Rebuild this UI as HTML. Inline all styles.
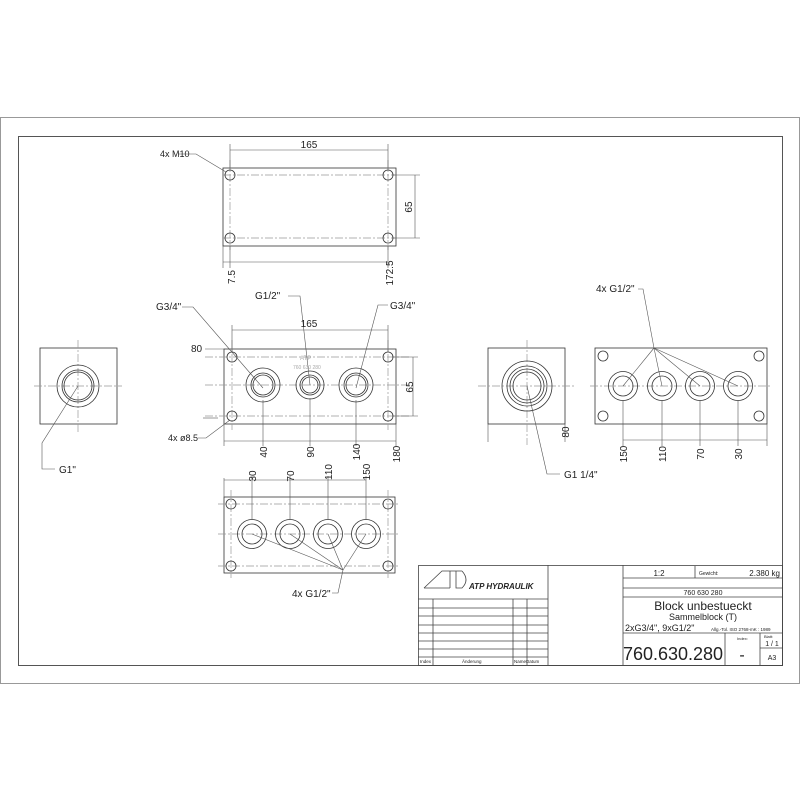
<!DOCTYPE html>
<html><head><meta charset="utf-8"><style>
html,body{margin:0;padding:0;background:#fff}
svg{display:block}
text{font-family:"Liberation Sans",sans-serif;fill:#222}
</style></head><body>
<svg width="800" height="800" viewBox="0 0 800 800" xmlns="http://www.w3.org/2000/svg">
<g fill="none" stroke="#999" stroke-width="1">
<rect x="0.5" y="117.5" width="799" height="566"/>
</g>
<g fill="none" stroke="#555" stroke-width="1">
<rect x="18.5" y="136.5" width="764" height="529"/>
</g>
<defs>
<style>.c{stroke:#999;stroke-dasharray:8 2 2 2;stroke-width:.7;fill:none}.l{stroke:#333;stroke-width:.8;fill:none}.t{stroke:#555;stroke-width:.6;fill:none}</style>
</defs>
<!-- TOP VIEW -->
<rect class="l" x="223" y="168" width="173" height="78"/>
<line class="c" x1="223" y1="175" x2="396" y2="175"/><line class="c" x1="223" y1="238" x2="396" y2="238"/>
<line class="c" x1="230" y1="160" x2="230" y2="250"/><line class="c" x1="388" y1="160" x2="388" y2="250"/>
<g class="l"><circle cx="230" cy="175" r="5"/><circle cx="388" cy="175" r="5"/><circle cx="230" cy="238" r="5"/><circle cx="388" cy="238" r="5"/></g>
<g class="t"><line x1="230" y1="150" x2="388" y2="150"/><line x1="230" y1="144" x2="230" y2="170"/><line x1="388" y1="144" x2="388" y2="170"/>
<line x1="415" y1="175" x2="415" y2="238"/><line x1="392" y1="175" x2="420" y2="175"/><line x1="392" y1="238" x2="420" y2="238"/>
<line x1="223" y1="262" x2="388" y2="262"/><line x1="223" y1="246" x2="223" y2="268"/><line x1="230" y1="246" x2="230" y2="268"/><line x1="388" y1="246" x2="388" y2="268"/>
<polyline points="178,154 196,154 226,172"/></g>
<text x="309" y="148" font-size="10" text-anchor="middle">165</text>
<text x="160" y="157" font-size="9">4x M10</text>
<text transform="translate(412,207) rotate(-90)" font-size="10" text-anchor="middle">65</text>
<text transform="translate(235,277) rotate(-90)" font-size="10" text-anchor="middle">7.5</text>
<text transform="translate(393,273) rotate(-90)" font-size="10" text-anchor="middle">172.5</text>

<!-- FRONT VIEW -->
<rect class="l" x="224" y="349" width="172" height="75"/>
<line class="c" x1="205" y1="357" x2="410" y2="357"/><line class="c" x1="205" y1="416" x2="410" y2="416"/>
<line class="c" x1="205" y1="385" x2="410" y2="385"/>
<line class="c" x1="232" y1="340" x2="232" y2="430"/><line class="c" x1="388" y1="340" x2="388" y2="430"/>
<g class="l"><circle cx="232" cy="357" r="5"/><circle cx="388" cy="357" r="5"/><circle cx="232" cy="416" r="5"/><circle cx="388" cy="416" r="5"/>
<circle cx="263" cy="385" r="17"/><circle cx="263" cy="385" r="12"/><circle cx="263" cy="385" r="10"/>
<circle cx="310" cy="385" r="14"/><circle cx="310" cy="385" r="10"/><circle cx="310" cy="385" r="8"/>
<circle cx="356" cy="385" r="17"/><circle cx="356" cy="385" r="12"/><circle cx="356" cy="385" r="10"/></g>
<g class="t"><line x1="232" y1="330" x2="388" y2="330"/><line x1="232" y1="325" x2="232" y2="352"/><line x1="388" y1="325" x2="388" y2="352"/>
<line x1="413" y1="357" x2="413" y2="416"/><line x1="392" y1="357" x2="418" y2="357"/><line x1="392" y1="416" x2="418" y2="416"/>
<line x1="224" y1="441" x2="396" y2="441"/><line x1="224" y1="424" x2="224" y2="446"/><line x1="263" y1="400" x2="263" y2="446"/><line x1="310" y1="398" x2="310" y2="446"/><line x1="356" y1="400" x2="356" y2="446"/><line x1="396" y1="424" x2="396" y2="446"/>
<line x1="205" y1="349" x2="224" y2="349"/><line x1="203" y1="418" x2="218" y2="418"/>
<polyline points="182,307 193,307 263,388"/><polyline points="288,296 300,296 310,385"/><polyline points="388,305 378,305 356,388"/><polyline points="198,438 206,438 230,420"/></g>
<text x="309" y="327" font-size="10" text-anchor="middle">165</text>
<text x="156" y="310" font-size="10">G3/4"</text>
<text x="255" y="299" font-size="10">G1/2"</text>
<text x="390" y="309" font-size="10">G3/4"</text>
<text x="191" y="352" font-size="10">80</text>
<text x="168" y="441" font-size="9">4x ø8.5</text>
<text transform="translate(413,387) rotate(-90)" font-size="10" text-anchor="middle">65</text>
<text transform="translate(267,452) rotate(-90)" font-size="10" text-anchor="middle">40</text>
<text transform="translate(314,452) rotate(-90)" font-size="10" text-anchor="middle">90</text>
<text transform="translate(360,452) rotate(-90)" font-size="10" text-anchor="middle">140</text>
<text transform="translate(400,454) rotate(-90)" font-size="10" text-anchor="middle">180</text>
<text x="300" y="360" font-size="6" fill="#aaa" style="fill:#aaa">ATP</text>
<text x="293" y="369" font-size="5" style="fill:#aaa">760 630 280</text>

<!-- LEFT VIEW -->
<rect class="l" x="40" y="348" width="77" height="76"/>
<line class="c" x1="78" y1="340" x2="78" y2="432"/><line class="c" x1="34" y1="386" x2="122" y2="386"/>
<g class="l"><circle cx="78" cy="386" r="21"/><circle cx="78" cy="386" r="16"/><circle cx="78" cy="386" r="14"/></g>
<polyline class="t" points="78,386 42,443 42,469 55,469"/>
<text x="59" y="473" font-size="10">G1"</text>

<!-- RIGHT VIEW 1 -->
<rect class="l" x="488" y="348" width="77" height="76"/>
<line class="c" x1="527" y1="340" x2="527" y2="445"/><line class="c" x1="478" y1="386" x2="575" y2="386"/>
<g class="l"><circle cx="527" cy="386" r="25"/><circle cx="527" cy="386" r="20"/><circle cx="527" cy="386" r="17"/><circle cx="527" cy="386" r="14"/></g>
<g class="t"><line x1="488" y1="424" x2="488" y2="442"/><line x1="565" y1="424" x2="565" y2="442"/></g>
<polyline class="t" points="527,386 547,474 560,474"/>
<text x="564" y="478" font-size="10">G1 1/4"</text>
<text transform="translate(569,432) rotate(-90)" font-size="10" text-anchor="middle">80</text>

<!-- RIGHT VIEW 2 -->
<rect class="l" x="595" y="348" width="172" height="76"/>
<line class="c" x1="590" y1="386" x2="772" y2="386"/>
<g class="l"><circle cx="603" cy="356" r="5"/><circle cx="759" cy="356" r="5"/><circle cx="603" cy="416" r="5"/><circle cx="759" cy="416" r="5"/>
<circle cx="623" cy="386" r="14.5"/><circle cx="623" cy="386" r="10"/><circle cx="662" cy="386" r="14.5"/><circle cx="662" cy="386" r="10"/>
<circle cx="700" cy="386" r="14.5"/><circle cx="700" cy="386" r="10"/><circle cx="738" cy="386" r="14.5"/><circle cx="738" cy="386" r="10"/></g>
<g class="t"><line x1="623" y1="440" x2="767" y2="440"/><line x1="623" y1="400" x2="623" y2="446"/><line x1="662" y1="400" x2="662" y2="446"/><line x1="700" y1="400" x2="700" y2="446"/><line x1="738" y1="400" x2="738" y2="446"/><line x1="767" y1="424" x2="767" y2="446"/>
<polyline points="638,289 643,289 654,348"/><line x1="654" y1="348" x2="623" y2="386"/><line x1="654" y1="348" x2="662" y2="386"/><line x1="654" y1="348" x2="700" y2="386"/><line x1="654" y1="348" x2="738" y2="386"/></g>
<text x="596" y="292" font-size="10">4x G1/2"</text>
<text transform="translate(627,454) rotate(-90)" font-size="10" text-anchor="middle">150</text>
<text transform="translate(666,454) rotate(-90)" font-size="10" text-anchor="middle">110</text>
<text transform="translate(704,454) rotate(-90)" font-size="10" text-anchor="middle">70</text>
<text transform="translate(742,454) rotate(-90)" font-size="10" text-anchor="middle">30</text>

<!-- BOTTOM VIEW -->
<rect class="l" x="224" y="497" width="171" height="76"/>
<line class="c" x1="218" y1="504" x2="400" y2="504"/><line class="c" x1="218" y1="566" x2="400" y2="566"/><line class="c" x1="218" y1="534" x2="400" y2="534"/>
<line class="c" x1="231" y1="490" x2="231" y2="578"/><line class="c" x1="388" y1="490" x2="388" y2="578"/>
<g class="l"><circle cx="231" cy="504" r="5"/><circle cx="388" cy="504" r="5"/><circle cx="231" cy="566" r="5"/><circle cx="388" cy="566" r="5"/>
<circle cx="252" cy="534" r="14.5"/><circle cx="252" cy="534" r="10"/><circle cx="290" cy="534" r="14.5"/><circle cx="290" cy="534" r="10"/>
<circle cx="328" cy="534" r="14.5"/><circle cx="328" cy="534" r="10"/><circle cx="366" cy="534" r="14.5"/><circle cx="366" cy="534" r="10"/></g>
<g class="t"><line x1="224" y1="480" x2="366" y2="480"/><line x1="224" y1="478" x2="224" y2="497"/><line x1="252" y1="476" x2="252" y2="520"/><line x1="290" y1="476" x2="290" y2="520"/><line x1="328" y1="476" x2="328" y2="520"/><line x1="366" y1="476" x2="366" y2="520"/>
<line x1="343" y1="570" x2="252" y2="534"/><line x1="343" y1="570" x2="290" y2="534"/><line x1="343" y1="570" x2="328" y2="534"/><line x1="343" y1="570" x2="366" y2="534"/><polyline points="343,570 338,593 332,593"/></g>
<text x="292" y="597" font-size="10">4x G1/2"</text>
<text transform="translate(256,476) rotate(-90)" font-size="10" text-anchor="middle">30</text>
<text transform="translate(294,476) rotate(-90)" font-size="10" text-anchor="middle">70</text>
<text transform="translate(332,472) rotate(-90)" font-size="10" text-anchor="middle">110</text>
<text transform="translate(370,472) rotate(-90)" font-size="10" text-anchor="middle">150</text>

<!-- TITLE BLOCK -->
<g fill="none" stroke="#444" stroke-width="0.8">
<rect x="418.5" y="565.5" width="364" height="100"/>
<line x1="548" y1="565" x2="548" y2="665"/><line x1="623" y1="565" x2="623" y2="665"/>
<line x1="418" y1="599" x2="548" y2="599"/>
<line x1="418" y1="608" x2="548" y2="608"/><line x1="418" y1="616" x2="548" y2="616"/><line x1="418" y1="625" x2="548" y2="625"/><line x1="418" y1="633" x2="548" y2="633"/><line x1="418" y1="641" x2="548" y2="641"/><line x1="418" y1="649" x2="548" y2="649"/><line x1="418" y1="657" x2="548" y2="657"/>
<line x1="433" y1="599" x2="433" y2="665"/><line x1="513" y1="599" x2="513" y2="665"/><line x1="527" y1="599" x2="527" y2="665"/>
<line x1="623" y1="578" x2="783" y2="578"/><line x1="623" y1="588" x2="783" y2="588"/><line x1="623" y1="597" x2="783" y2="597"/>
<line x1="623" y1="633" x2="783" y2="633"/>
<line x1="695" y1="566" x2="695" y2="578"/>
<line x1="725" y1="633" x2="725" y2="665"/><line x1="760" y1="633" x2="760" y2="665"/><line x1="760" y1="648" x2="783" y2="648"/>
<path d="M424,588 L442,571 L462,571 M450,571 L450,588 M456,571 L456,588 L462,588 Q470,580 462,571"/>
<line x1="424" y1="588" x2="450" y2="588"/>
</g>
<text x="469" y="589" font-size="8" font-weight="bold" font-style="italic">ATP HYDRAULIK</text>
<text x="659" y="576" font-size="8" text-anchor="middle">1:2</text>
<text x="699" y="575" font-size="5">Gewicht:</text>
<text x="780" y="576" font-size="8" text-anchor="end">2.380 kg</text>
<text x="703" y="595" font-size="7" text-anchor="middle">760 630 280</text>
<text x="703" y="610" font-size="12" text-anchor="middle">Block unbestueckt</text>
<text x="703" y="620" font-size="9" text-anchor="middle">Sammelblock (T)</text>
<text x="625" y="631" font-size="9">2xG3/4", 9xG1/2"</text>
<text x="711" y="631" font-size="4.5">Allg.-Tol.  ISO 2768-mK : 1989</text>
<text x="673" y="660" font-size="18" text-anchor="middle">760.630.280</text>
<text x="742" y="660" font-size="16" text-anchor="middle">-</text>
<text x="737" y="640" font-size="4">Index:</text>
<text x="764" y="638" font-size="4">Blatt:</text>
<text x="772" y="646" font-size="7" text-anchor="middle">1 / 1</text>
<text x="772" y="660" font-size="7" text-anchor="middle">A3</text>
<text x="420" y="663" font-size="4.5">Index</text>
<text x="462" y="663" font-size="4.5">Änderung</text>
<text x="514" y="663" font-size="4.5">NameDatum</text>
</svg>
</body></html>
